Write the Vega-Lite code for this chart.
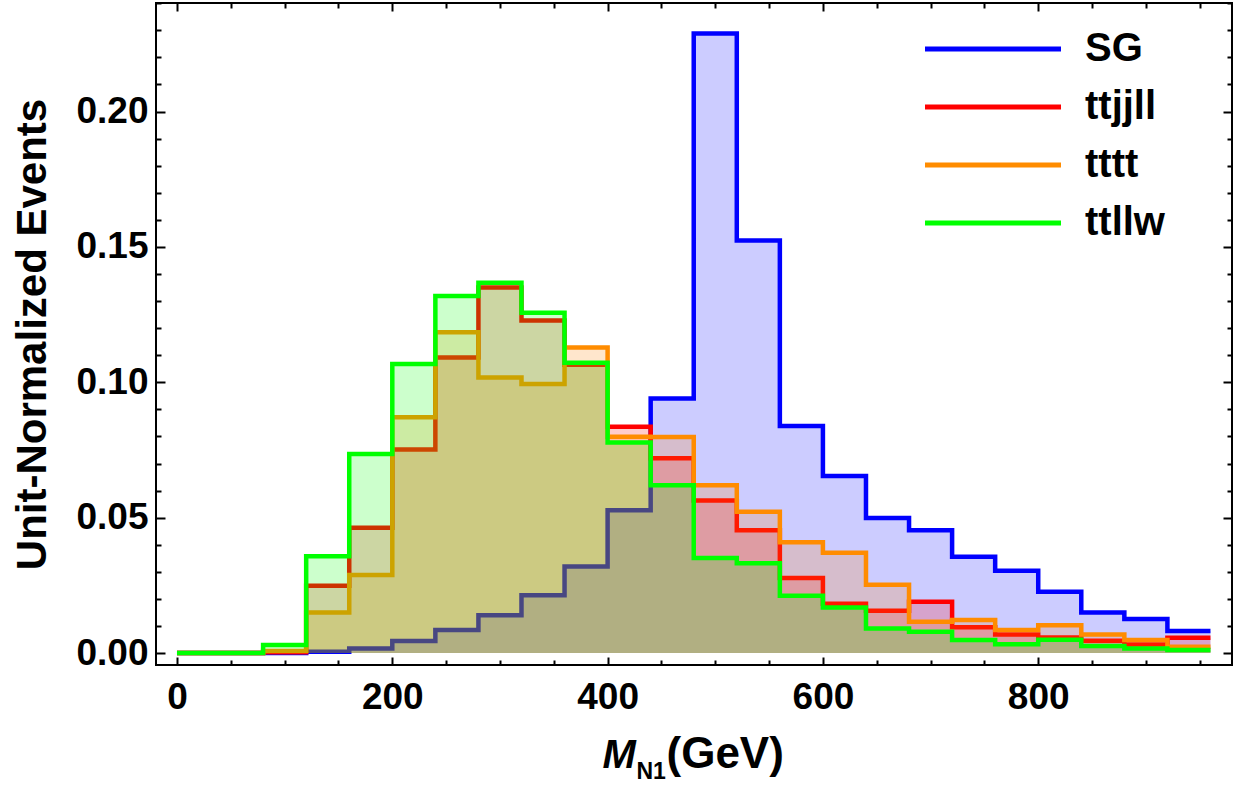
{
  "$schema": "https://vega.github.io/schema/vega-lite/v6.json",
  "width": 1076,
  "height": 662,
  "autosize": {"type": "none"},
  "padding": {"left": 156, "top": 3, "right": 4, "bottom": 121},
  "background": "white",
  "config": {
    "view": {"stroke": "black", "strokeWidth": 2},
    "font": "Liberation Sans",
    "axis": {"grid": false, "domain": false, "tickColor": "black", "tickWidth": 2, "labelColor": "black", "titleColor": "black", "zindex": 1, "labelFont": "Liberation Sans", "titleFont": "Liberation Sans"}
  },
  "data": {
    "values": [
      {"s": "SG", "lo": 0, "hi": 40, "v": 0},
      {"s": "SG", "lo": 40, "hi": 80, "v": 0},
      {"s": "SG", "lo": 80, "hi": 120, "v": 0},
      {"s": "SG", "lo": 120, "hi": 160, "v": 0.0005},
      {"s": "SG", "lo": 160, "hi": 200, "v": 0.0017},
      {"s": "SG", "lo": 200, "hi": 240, "v": 0.0045},
      {"s": "SG", "lo": 240, "hi": 280, "v": 0.0085},
      {"s": "SG", "lo": 280, "hi": 320, "v": 0.014},
      {"s": "SG", "lo": 320, "hi": 360, "v": 0.0214},
      {"s": "SG", "lo": 360, "hi": 400, "v": 0.032},
      {"s": "SG", "lo": 400, "hi": 440, "v": 0.0528},
      {"s": "SG", "lo": 440, "hi": 480, "v": 0.094},
      {"s": "SG", "lo": 480, "hi": 520, "v": 0.2288},
      {"s": "SG", "lo": 520, "hi": 560, "v": 0.1524},
      {"s": "SG", "lo": 560, "hi": 600, "v": 0.0839},
      {"s": "SG", "lo": 600, "hi": 640, "v": 0.0654},
      {"s": "SG", "lo": 640, "hi": 680, "v": 0.0499},
      {"s": "SG", "lo": 680, "hi": 720, "v": 0.0454},
      {"s": "SG", "lo": 720, "hi": 760, "v": 0.0356},
      {"s": "SG", "lo": 760, "hi": 800, "v": 0.0304},
      {"s": "SG", "lo": 800, "hi": 840, "v": 0.0227},
      {"s": "SG", "lo": 840, "hi": 880, "v": 0.015},
      {"s": "SG", "lo": 880, "hi": 920, "v": 0.0126},
      {"s": "SG", "lo": 920, "hi": 960, "v": 0.0082},
      {"s": "ttjjll", "lo": 0, "hi": 40, "v": 0},
      {"s": "ttjjll", "lo": 40, "hi": 80, "v": 0},
      {"s": "ttjjll", "lo": 80, "hi": 120, "v": 0.0003},
      {"s": "ttjjll", "lo": 120, "hi": 160, "v": 0.0249},
      {"s": "ttjjll", "lo": 160, "hi": 200, "v": 0.0463},
      {"s": "ttjjll", "lo": 200, "hi": 240, "v": 0.0752},
      {"s": "ttjjll", "lo": 240, "hi": 280, "v": 0.1092},
      {"s": "ttjjll", "lo": 280, "hi": 320, "v": 0.135},
      {"s": "ttjjll", "lo": 320, "hi": 360, "v": 0.1228},
      {"s": "ttjjll", "lo": 360, "hi": 400, "v": 0.1065},
      {"s": "ttjjll", "lo": 400, "hi": 440, "v": 0.0836},
      {"s": "ttjjll", "lo": 440, "hi": 480, "v": 0.072},
      {"s": "ttjjll", "lo": 480, "hi": 520, "v": 0.0564},
      {"s": "ttjjll", "lo": 520, "hi": 560, "v": 0.0454},
      {"s": "ttjjll", "lo": 560, "hi": 600, "v": 0.0277},
      {"s": "ttjjll", "lo": 600, "hi": 640, "v": 0.0182},
      {"s": "ttjjll", "lo": 640, "hi": 680, "v": 0.0156},
      {"s": "ttjjll", "lo": 680, "hi": 720, "v": 0.019},
      {"s": "ttjjll", "lo": 720, "hi": 760, "v": 0.0095},
      {"s": "ttjjll", "lo": 760, "hi": 800, "v": 0.0069},
      {"s": "ttjjll", "lo": 800, "hi": 840, "v": 0.0058},
      {"s": "ttjjll", "lo": 840, "hi": 880, "v": 0.0046},
      {"s": "ttjjll", "lo": 880, "hi": 920, "v": 0.0032},
      {"s": "ttjjll", "lo": 920, "hi": 960, "v": 0.0057},
      {"s": "tttt", "lo": 0, "hi": 40, "v": 0},
      {"s": "tttt", "lo": 40, "hi": 80, "v": 0},
      {"s": "tttt", "lo": 80, "hi": 120, "v": 0.0008},
      {"s": "tttt", "lo": 120, "hi": 160, "v": 0.015},
      {"s": "tttt", "lo": 160, "hi": 200, "v": 0.0288},
      {"s": "tttt", "lo": 200, "hi": 240, "v": 0.0871},
      {"s": "tttt", "lo": 240, "hi": 280, "v": 0.1185},
      {"s": "tttt", "lo": 280, "hi": 320, "v": 0.1018},
      {"s": "tttt", "lo": 320, "hi": 360, "v": 0.0994},
      {"s": "tttt", "lo": 360, "hi": 400, "v": 0.1129},
      {"s": "tttt", "lo": 400, "hi": 440, "v": 0.0799},
      {"s": "tttt", "lo": 440, "hi": 480, "v": 0.0798},
      {"s": "tttt", "lo": 480, "hi": 520, "v": 0.062},
      {"s": "tttt", "lo": 520, "hi": 560, "v": 0.0522},
      {"s": "tttt", "lo": 560, "hi": 600, "v": 0.0409},
      {"s": "tttt", "lo": 600, "hi": 640, "v": 0.0371},
      {"s": "tttt", "lo": 640, "hi": 680, "v": 0.0252},
      {"s": "tttt", "lo": 680, "hi": 720, "v": 0.0116},
      {"s": "tttt", "lo": 720, "hi": 760, "v": 0.0122},
      {"s": "tttt", "lo": 760, "hi": 800, "v": 0.0085},
      {"s": "tttt", "lo": 800, "hi": 840, "v": 0.0103},
      {"s": "tttt", "lo": 840, "hi": 880, "v": 0.0069},
      {"s": "tttt", "lo": 880, "hi": 920, "v": 0.0048},
      {"s": "tttt", "lo": 920, "hi": 960, "v": 0.0023},
      {"s": "ttllw", "lo": 0, "hi": 40, "v": 0},
      {"s": "ttllw", "lo": 40, "hi": 80, "v": 0},
      {"s": "ttllw", "lo": 80, "hi": 120, "v": 0.003},
      {"s": "ttllw", "lo": 120, "hi": 160, "v": 0.0358},
      {"s": "ttllw", "lo": 160, "hi": 200, "v": 0.0735},
      {"s": "ttllw", "lo": 200, "hi": 240, "v": 0.1068},
      {"s": "ttllw", "lo": 240, "hi": 280, "v": 0.1319},
      {"s": "ttllw", "lo": 280, "hi": 320, "v": 0.1368},
      {"s": "ttllw", "lo": 320, "hi": 360, "v": 0.1257},
      {"s": "ttllw", "lo": 360, "hi": 400, "v": 0.1072},
      {"s": "ttllw", "lo": 400, "hi": 440, "v": 0.0778},
      {"s": "ttllw", "lo": 440, "hi": 480, "v": 0.062},
      {"s": "ttllw", "lo": 480, "hi": 520, "v": 0.0351},
      {"s": "ttllw", "lo": 520, "hi": 560, "v": 0.0332},
      {"s": "ttllw", "lo": 560, "hi": 600, "v": 0.0212},
      {"s": "ttllw", "lo": 600, "hi": 640, "v": 0.0168},
      {"s": "ttllw", "lo": 640, "hi": 680, "v": 0.0091},
      {"s": "ttllw", "lo": 680, "hi": 720, "v": 0.0079},
      {"s": "ttllw", "lo": 720, "hi": 760, "v": 0.0048},
      {"s": "ttllw", "lo": 760, "hi": 800, "v": 0.0033},
      {"s": "ttllw", "lo": 800, "hi": 840, "v": 0.0049},
      {"s": "ttllw", "lo": 840, "hi": 880, "v": 0.0026},
      {"s": "ttllw", "lo": 880, "hi": 920, "v": 0.0017},
      {"s": "ttllw", "lo": 920, "hi": 960, "v": 0.0011}
    ]
  },
  "transform": [{"fold": ["lo", "hi"], "as": ["edge", "x"]}],
  "resolve": {"axis": {"x": "independent", "y": "independent"}},
  "layer": [
    {
      "transform": [{"filter": "datum.s === 'SG'"}],
      "mark": {"type": "area", "color": "#0000FF", "opacity": 0.2},
      "encoding": {
        "x": {"field": "x", "type": "quantitative", "scale": {"domain": [-19.5, 980], "nice": false, "zero": false},
          "axis": {"orient": "bottom", "values": [0, 200, 400, 600, 800], "tickSize": -8, "labelFontSize": 37, "labelFontWeight": "bold", "labelPadding": 22, "labelFlush": false, "labelOverlap": false,
            "title": "M", "titleFontSize": 40, "titleFontWeight": "bold", "titleFontStyle": "italic", "titleX": 446, "titleY": 102, "titleAlign": "left", "titleBaseline": "alphabetic", "titleAnchor": null}},
        "y": {"field": "v", "type": "quantitative", "stack": null, "scale": {"domain": [-0.0044, 0.2401], "nice": false, "zero": false},
          "axis": {"orient": "left", "values": [0, 0.05, 0.1, 0.15, 0.2], "format": ".2f", "tickSize": -9, "labelFontSize": 37, "labelFontWeight": "bold", "labelPadding": 17, "labelFlush": false, "labelOverlap": false,
            "title": "Unit-Normalized Events", "titleFontSize": 42, "titleFontWeight": "bold", "titleX": -111, "titleY": 331, "titleAngle": -90, "titleAlign": "center", "titleBaseline": "alphabetic", "titleAnchor": null}},
        "order": [{"field": "lo", "type": "quantitative"}, {"field": "x", "type": "quantitative"}]
      }
    },
    {
      "transform": [{"filter": "datum.s === 'SG'"}],
      "mark": {"type": "line", "strokeWidth": 4.5, "strokeJoin": "miter", "strokeCap": "butt"},
      "encoding": {
        "x": {"field": "x", "type": "quantitative", "scale": {"domain": [-19.5, 980], "nice": false, "zero": false},
          "axis": {"orient": "bottom", "values": [50, 100, 150, 250, 300, 350, 450, 500, 550, 650, 700, 750, 850, 900, 950], "tickSize": -5, "labels": false, "title": null}},
        "y": {"field": "v", "type": "quantitative", "scale": {"domain": [-0.0044, 0.2401], "nice": false, "zero": false},
          "axis": {"orient": "left", "values": [0.01, 0.02, 0.03, 0.04, 0.06, 0.07, 0.08, 0.09, 0.11, 0.12, 0.13, 0.14, 0.16, 0.17, 0.18, 0.19, 0.21, 0.22, 0.23, 0.24], "tickSize": -5, "labels": false, "title": null}},
        "color": {"field": "s", "type": "nominal",
          "scale": {"domain": ["SG", "ttjjll", "tttt", "ttllw"], "range": ["#0000FF", "#FF0000", "#FF8C00", "#00FF00"]},
          "legend": {"orient": "none", "legendX": 766, "legendY": 26, "symbolType": "M-4,0H4", "symbolSize": 1156, "symbolStrokeWidth": 5, "symbolOffset": 51, "labelOffset": 72, "labelFontSize": 40, "labelFont": "Liberation Sans", "labelFontWeight": "bold", "labelColor": "black", "rowPadding": 18, "padding": 0, "title": null, "labelLimit": 0}},
        "order": [{"field": "lo", "type": "quantitative"}, {"field": "x", "type": "quantitative"}]
      }
    },
    {
      "transform": [{"filter": "datum.s === 'ttjjll'"}],
      "mark": {"type": "area", "color": "#FF0000", "opacity": 0.2},
      "encoding": {
        "x": {"field": "x", "type": "quantitative", "scale": {"domain": [-19.5, 980], "nice": false, "zero": false},
          "axis": {"orient": "top", "values": [0, 200, 400, 600, 800], "tickSize": -8, "labels": false, "title": null}},
        "y": {"field": "v", "type": "quantitative", "stack": null, "scale": {"domain": [-0.0044, 0.2401], "nice": false, "zero": false},
          "axis": {"orient": "right", "values": [0, 0.05, 0.1, 0.15, 0.2], "tickSize": -9, "labels": false, "title": null}},
        "order": [{"field": "lo", "type": "quantitative"}, {"field": "x", "type": "quantitative"}]
      }
    },
    {
      "transform": [{"filter": "datum.s === 'ttjjll'"}],
      "mark": {"type": "line", "strokeWidth": 4.5, "strokeJoin": "miter", "strokeCap": "butt"},
      "encoding": {
        "x": {"field": "x", "type": "quantitative", "scale": {"domain": [-19.5, 980], "nice": false, "zero": false},
          "axis": {"orient": "top", "values": [50, 100, 150, 250, 300, 350, 450, 500, 550, 650, 700, 750, 850, 900, 950], "tickSize": -5, "labels": false, "title": null}},
        "y": {"field": "v", "type": "quantitative", "scale": {"domain": [-0.0044, 0.2401], "nice": false, "zero": false},
          "axis": {"orient": "right", "values": [0.01, 0.02, 0.03, 0.04, 0.06, 0.07, 0.08, 0.09, 0.11, 0.12, 0.13, 0.14, 0.16, 0.17, 0.18, 0.19, 0.21, 0.22, 0.23, 0.24], "tickSize": -5, "labels": false, "title": null}},
        "color": {"field": "s", "type": "nominal"},
        "order": [{"field": "lo", "type": "quantitative"}, {"field": "x", "type": "quantitative"}]
      }
    },
    {
      "transform": [{"filter": "datum.s === 'tttt'"}],
      "mark": {"type": "area", "color": "#FF8000", "opacity": 0.2},
      "encoding": {
        "x": {"field": "x", "type": "quantitative", "scale": {"domain": [-19.5, 980], "nice": false, "zero": false},
          "axis": {"orient": "bottom", "ticks": false, "labels": false, "title": "N1", "titleFontSize": 23, "titleFontWeight": "bold", "titleX": 480, "titleY": 113, "titleAlign": "left", "titleBaseline": "alphabetic", "titleAnchor": null}},
        "y": {"field": "v", "type": "quantitative", "stack": null, "scale": {"domain": [-0.0044, 0.2401], "nice": false, "zero": false}, "axis": null},
        "order": [{"field": "lo", "type": "quantitative"}, {"field": "x", "type": "quantitative"}]
      }
    },
    {
      "transform": [{"filter": "datum.s === 'tttt'"}],
      "mark": {"type": "line", "strokeWidth": 4.5, "strokeJoin": "miter", "strokeCap": "butt"},
      "encoding": {
        "x": {"field": "x", "type": "quantitative", "scale": {"domain": [-19.5, 980], "nice": false, "zero": false},
          "axis": {"orient": "bottom", "ticks": false, "labels": false, "title": "(GeV)", "titleFontSize": 44, "titleFontWeight": "bold", "titleX": 510, "titleY": 102, "titleAlign": "left", "titleBaseline": "alphabetic", "titleAnchor": null}},
        "y": {"field": "v", "type": "quantitative", "scale": {"domain": [-0.0044, 0.2401], "nice": false, "zero": false}, "axis": null},
        "color": {"field": "s", "type": "nominal"},
        "order": [{"field": "lo", "type": "quantitative"}, {"field": "x", "type": "quantitative"}]
      }
    },
    {
      "transform": [{"filter": "datum.s === 'ttllw'"}],
      "mark": {"type": "area", "color": "#00FF00", "opacity": 0.2},
      "encoding": {
        "x": {"field": "x", "type": "quantitative", "scale": {"domain": [-19.5, 980], "nice": false, "zero": false}, "axis": null},
        "y": {"field": "v", "type": "quantitative", "stack": null, "scale": {"domain": [-0.0044, 0.2401], "nice": false, "zero": false}, "axis": null},
        "order": [{"field": "lo", "type": "quantitative"}, {"field": "x", "type": "quantitative"}]
      }
    },
    {
      "transform": [{"filter": "datum.s === 'ttllw'"}],
      "mark": {"type": "line", "strokeWidth": 4.5, "strokeJoin": "miter", "strokeCap": "butt"},
      "encoding": {
        "x": {"field": "x", "type": "quantitative", "scale": {"domain": [-19.5, 980], "nice": false, "zero": false}, "axis": null},
        "y": {"field": "v", "type": "quantitative", "scale": {"domain": [-0.0044, 0.2401], "nice": false, "zero": false}, "axis": null},
        "color": {"field": "s", "type": "nominal"},
        "order": [{"field": "lo", "type": "quantitative"}, {"field": "x", "type": "quantitative"}]
      }
    }
  ]
}
